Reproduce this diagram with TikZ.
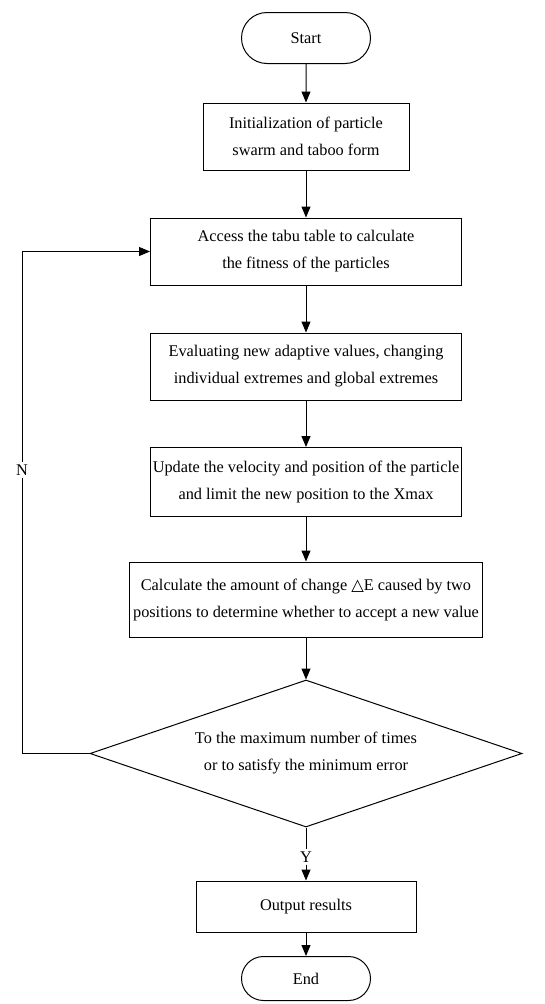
\documentclass[tikz,border=0pt]{standalone}
\usepackage{fontspec}
\setmainfont{Liberation Serif}
\newfontfamily\symfont{DejaVu Sans}
\usetikzlibrary{shapes.geometric,shapes.misc,arrows.meta}
\begin{document}
\begin{tikzpicture}[x=1pt,y=-1pt,
  every node/.style={font=\fontsize{16.3}{27}\selectfont, text=black},
  box/.style={draw, line width=1pt, rectangle, align=center, inner sep=0pt},
  term/.style={draw, line width=1pt, rounded rectangle, inner sep=0pt},
  flow/.style={line width=1pt, -{Triangle[length=11pt,width=9pt]}},
  plain/.style={line width=1pt},
  lbl/.style={fill=white, inner sep=2pt}
]
\useasboundingbox (0,0) rectangle (544,1004);
\node[term, minimum width=129pt, minimum height=51pt] (start) at (306,38) {Start};
\node[box, minimum width=206pt, minimum height=67pt] (b1) at (306,136.5) {Initialization of particle\\swarm and taboo form};
\node[box, minimum width=311pt, minimum height=67pt] (b2) at (306,251.5) {Access the tabu table to calculate\\the fitness of the particles};
\node[box, minimum width=311pt, minimum height=67pt] (b3) at (306,366.5) {Evaluating new adaptive values, changing\\individual extremes and global extremes};
\node[box, minimum width=311pt, minimum height=69pt] (b4) at (306,482) {Update the velocity and position of the particle\\and limit the new position to the Xmax};
\node[box, minimum width=353pt, minimum height=75pt] (b5) at (306,599.5) {Calculate the amount of change {\symfont △}E caused by two\\positions to determine whether to accept a new value};
\node[draw, line width=1pt, diamond, aspect=2.94, inner sep=0pt, align=center, minimum width=432pt, minimum height=147pt] (dia) at (306,753.5) {To the maximum number of times\\or to satisfy the minimum error};
\node[lbl] (ylab) at (306,857) {Y};
\node[box, minimum width=220pt, minimum height=51pt] (out) at (306,906.5) {Output results};
\node[term, minimum width=129pt, minimum height=44pt] (end) at (306,978.5) {End};
\node[lbl] (nlab) at (22,470) {N};
\coordinate (lb) at (22,753.5);
\coordinate (lt) at (22,251.5);

\draw[flow] (start) -- (b1);
\draw[flow] (b1) -- (b2);
\draw[flow] (b2) -- (b3);
\draw[flow] (b3) -- (b4);
\draw[flow] (b4) -- (b5);
\draw[flow] (b5) -- (dia);
\draw[plain] (dia.south) -- (ylab.north);
\draw[flow] (ylab.south) -- (out.north);
\draw[flow] (out) -- (end);
\draw[plain] (dia.west) -- (lb) -- (nlab.south);
\draw[flow] (nlab.north) -- (lt) -- (b2.west);
\end{tikzpicture}
\end{document}
